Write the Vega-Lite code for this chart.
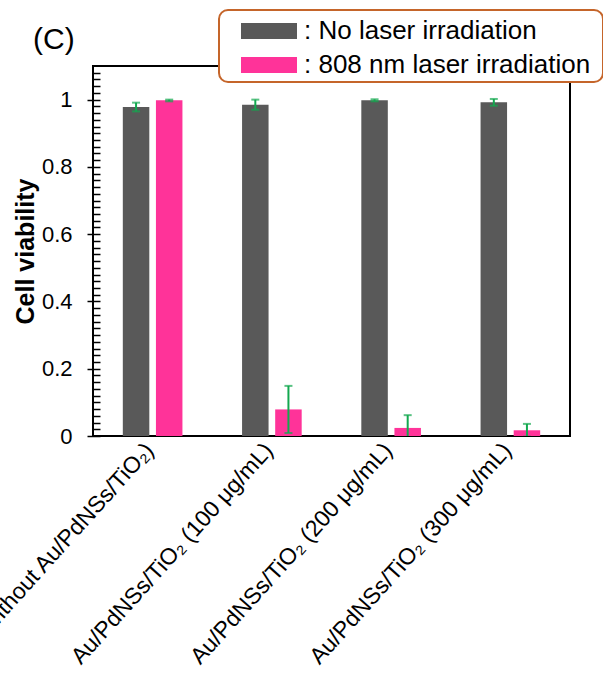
{
  "$schema": "https://vega.github.io/schema/vega-lite/v6.json",
  "width": 477,
  "height": 370,
  "autosize": {"type": "none"},
  "padding": {"left": 93, "top": 66, "right": 33, "bottom": 261},
  "background": "white",
  "title": {"text": "(C)", "anchor": "start", "frame": "group", "dx": -60, "dy": 86, "fontSize": 30, "font": "Liberation Sans", "fontWeight": "normal", "baseline": "alphabetic", "offset": 16, "color": "black"},
  "data": {"values": [
    {"sample": "Control (without Au/PdNSs/TiO₂)", "condition": "No laser irradiation", "value": 0.978, "lo": 0.965, "hi": 0.991},
    {"sample": "Control (without Au/PdNSs/TiO₂)", "condition": "808 nm laser irradiation", "value": 0.998, "lo": 0.995, "hi": 1.0},
    {"sample": "Au/PdNSs/TiO₂ (100 μg/mL)", "condition": "No laser irradiation", "value": 0.985, "lo": 0.970, "hi": 1.0},
    {"sample": "Au/PdNSs/TiO₂ (100 μg/mL)", "condition": "808 nm laser irradiation", "value": 0.079, "lo": 0.009, "hi": 0.149},
    {"sample": "Au/PdNSs/TiO₂ (200 μg/mL)", "condition": "No laser irradiation", "value": 0.998, "lo": 0.995, "hi": 1.001},
    {"sample": "Au/PdNSs/TiO₂ (200 μg/mL)", "condition": "808 nm laser irradiation", "value": 0.024, "lo": -0.014, "hi": 0.062},
    {"sample": "Au/PdNSs/TiO₂ (300 μg/mL)", "condition": "No laser irradiation", "value": 0.992, "lo": 0.982, "hi": 1.002},
    {"sample": "Au/PdNSs/TiO₂ (300 μg/mL)", "condition": "808 nm laser irradiation", "value": 0.017, "lo": -0.002, "hi": 0.036}
  ]},
  "encoding": {
    "x": {"field": "sample", "type": "nominal", "sort": null,
      "scale": {"paddingInner": 0.5, "paddingOuter": 0.25},
      "axis": {"title": null, "labelAngle": -48, "labelAlign": "right", "labelBaseline": "middle", "labelFontSize": 23, "labelFont": "Liberation Sans", "labelColor": "black", "labelPadding": 10, "labelOffset": -3, "ticks": false, "domain": false, "labelLimit": 1000}},
    "xOffset": {"field": "condition", "type": "nominal", "sort": ["No laser irradiation", "808 nm laser irradiation"], "scale": {"paddingInner": 0.2, "paddingOuter": 0}}
  },
  "layer": [
    {
      "mark": {"type": "bar"},
      "encoding": {
        "y": {"field": "value", "type": "quantitative",
          "scale": {"domain": [0, 1.1], "nice": false, "zero": true},
          "axis": {
            "title": "Cell viability", "titleFontSize": 25, "titleFontWeight": "bold", "titleFont": "Liberation Sans", "titleColor": "black",
            "titleX": -67, "titleY": 185, "titleBaseline": "alphabetic", "titleAlign": "center", "titleAngle": -90,
            "values": [0,0.02,0.04,0.06,0.08,0.1,0.12,0.14,0.16,0.18,0.2,0.22,0.24,0.26,0.28,0.3,0.32,0.34,0.36,0.38,0.4,0.42,0.44,0.46,0.48,0.5,0.52,0.54,0.56,0.58,0.6,0.62,0.64,0.66,0.68,0.7,0.72,0.74,0.76,0.78,0.8,0.82,0.84,0.86,0.88,0.9,0.92,0.94,0.96,0.98,1,1.02,1.04,1.06,1.08],
            "tickCount": 100,
            "offset": -7,
            "ticks": true,
            "tickSize": {"condition": {"test": "round(datum.value*100) % 20 == 0", "value": 13}, "value": 7},
            "tickColor": "black", "tickWidth": 1.5,
            "domain": false, "grid": false,
            "labelExpr": "round(datum.value*100) % 20 == 0 ? format(datum.value, '.1~f') : ''",
            "labelFontSize": 22, "labelFont": "Liberation Sans", "labelColor": "black", "labelPadding": 15, "labelOverlap": false, "labelBound": false
          }},
        "color": {"field": "condition", "type": "nominal",
          "scale": {"domain": ["No laser irradiation", "808 nm laser irradiation"], "range": ["#595959", "#ff3399"]},
          "legend": {
            "orient": "none", "legendX": 126, "legendY": -56,
            "title": "\u00a0", "titleOrient": "right", "titlePadding": 9, "titleFontSize": 25,
            "symbolType": "M-1.647,-0.471H1.647V0.471H-1.647Z", "symbolSize": 1156, "symbolStrokeWidth": 0, "symbolOpacity": 1,
            "symbolOffset": 29, "labelOffset": 18, "labelFontSize": 26, "labelFont": "Liberation Sans", "labelColor": "black", "labelLimit": 1000,
            "labelExpr": "': ' + datum.label",
            "padding": 4, "rowPadding": 4, "strokeColor": "#c5652a", "cornerRadius": 9, "fillColor": "white",
            "encode": {"legend": {"update": {"strokeWidth": {"value": 2}}}}
          }}
      }
    },
    {
      "mark": {"type": "rule", "color": "#13a84f", "strokeWidth": 2, "clip": true},
      "encoding": {"y": {"field": "lo", "type": "quantitative", "title": "Cell viability"}, "y2": {"field": "hi"}}
    },
    {
      "mark": {"type": "tick", "color": "#13a84f", "thickness": 2, "size": 8, "clip": true},
      "encoding": {"y": {"field": "hi", "type": "quantitative", "title": "Cell viability"}}
    },
    {
      "mark": {"type": "tick", "color": "#13a84f", "thickness": 2, "size": 8, "clip": true},
      "encoding": {"y": {"field": "lo", "type": "quantitative", "title": "Cell viability"}}
    }
  ],
  "config": {
    "view": {"stroke": "black", "strokeWidth": 2},
    "font": "Liberation Sans"
  }
}
